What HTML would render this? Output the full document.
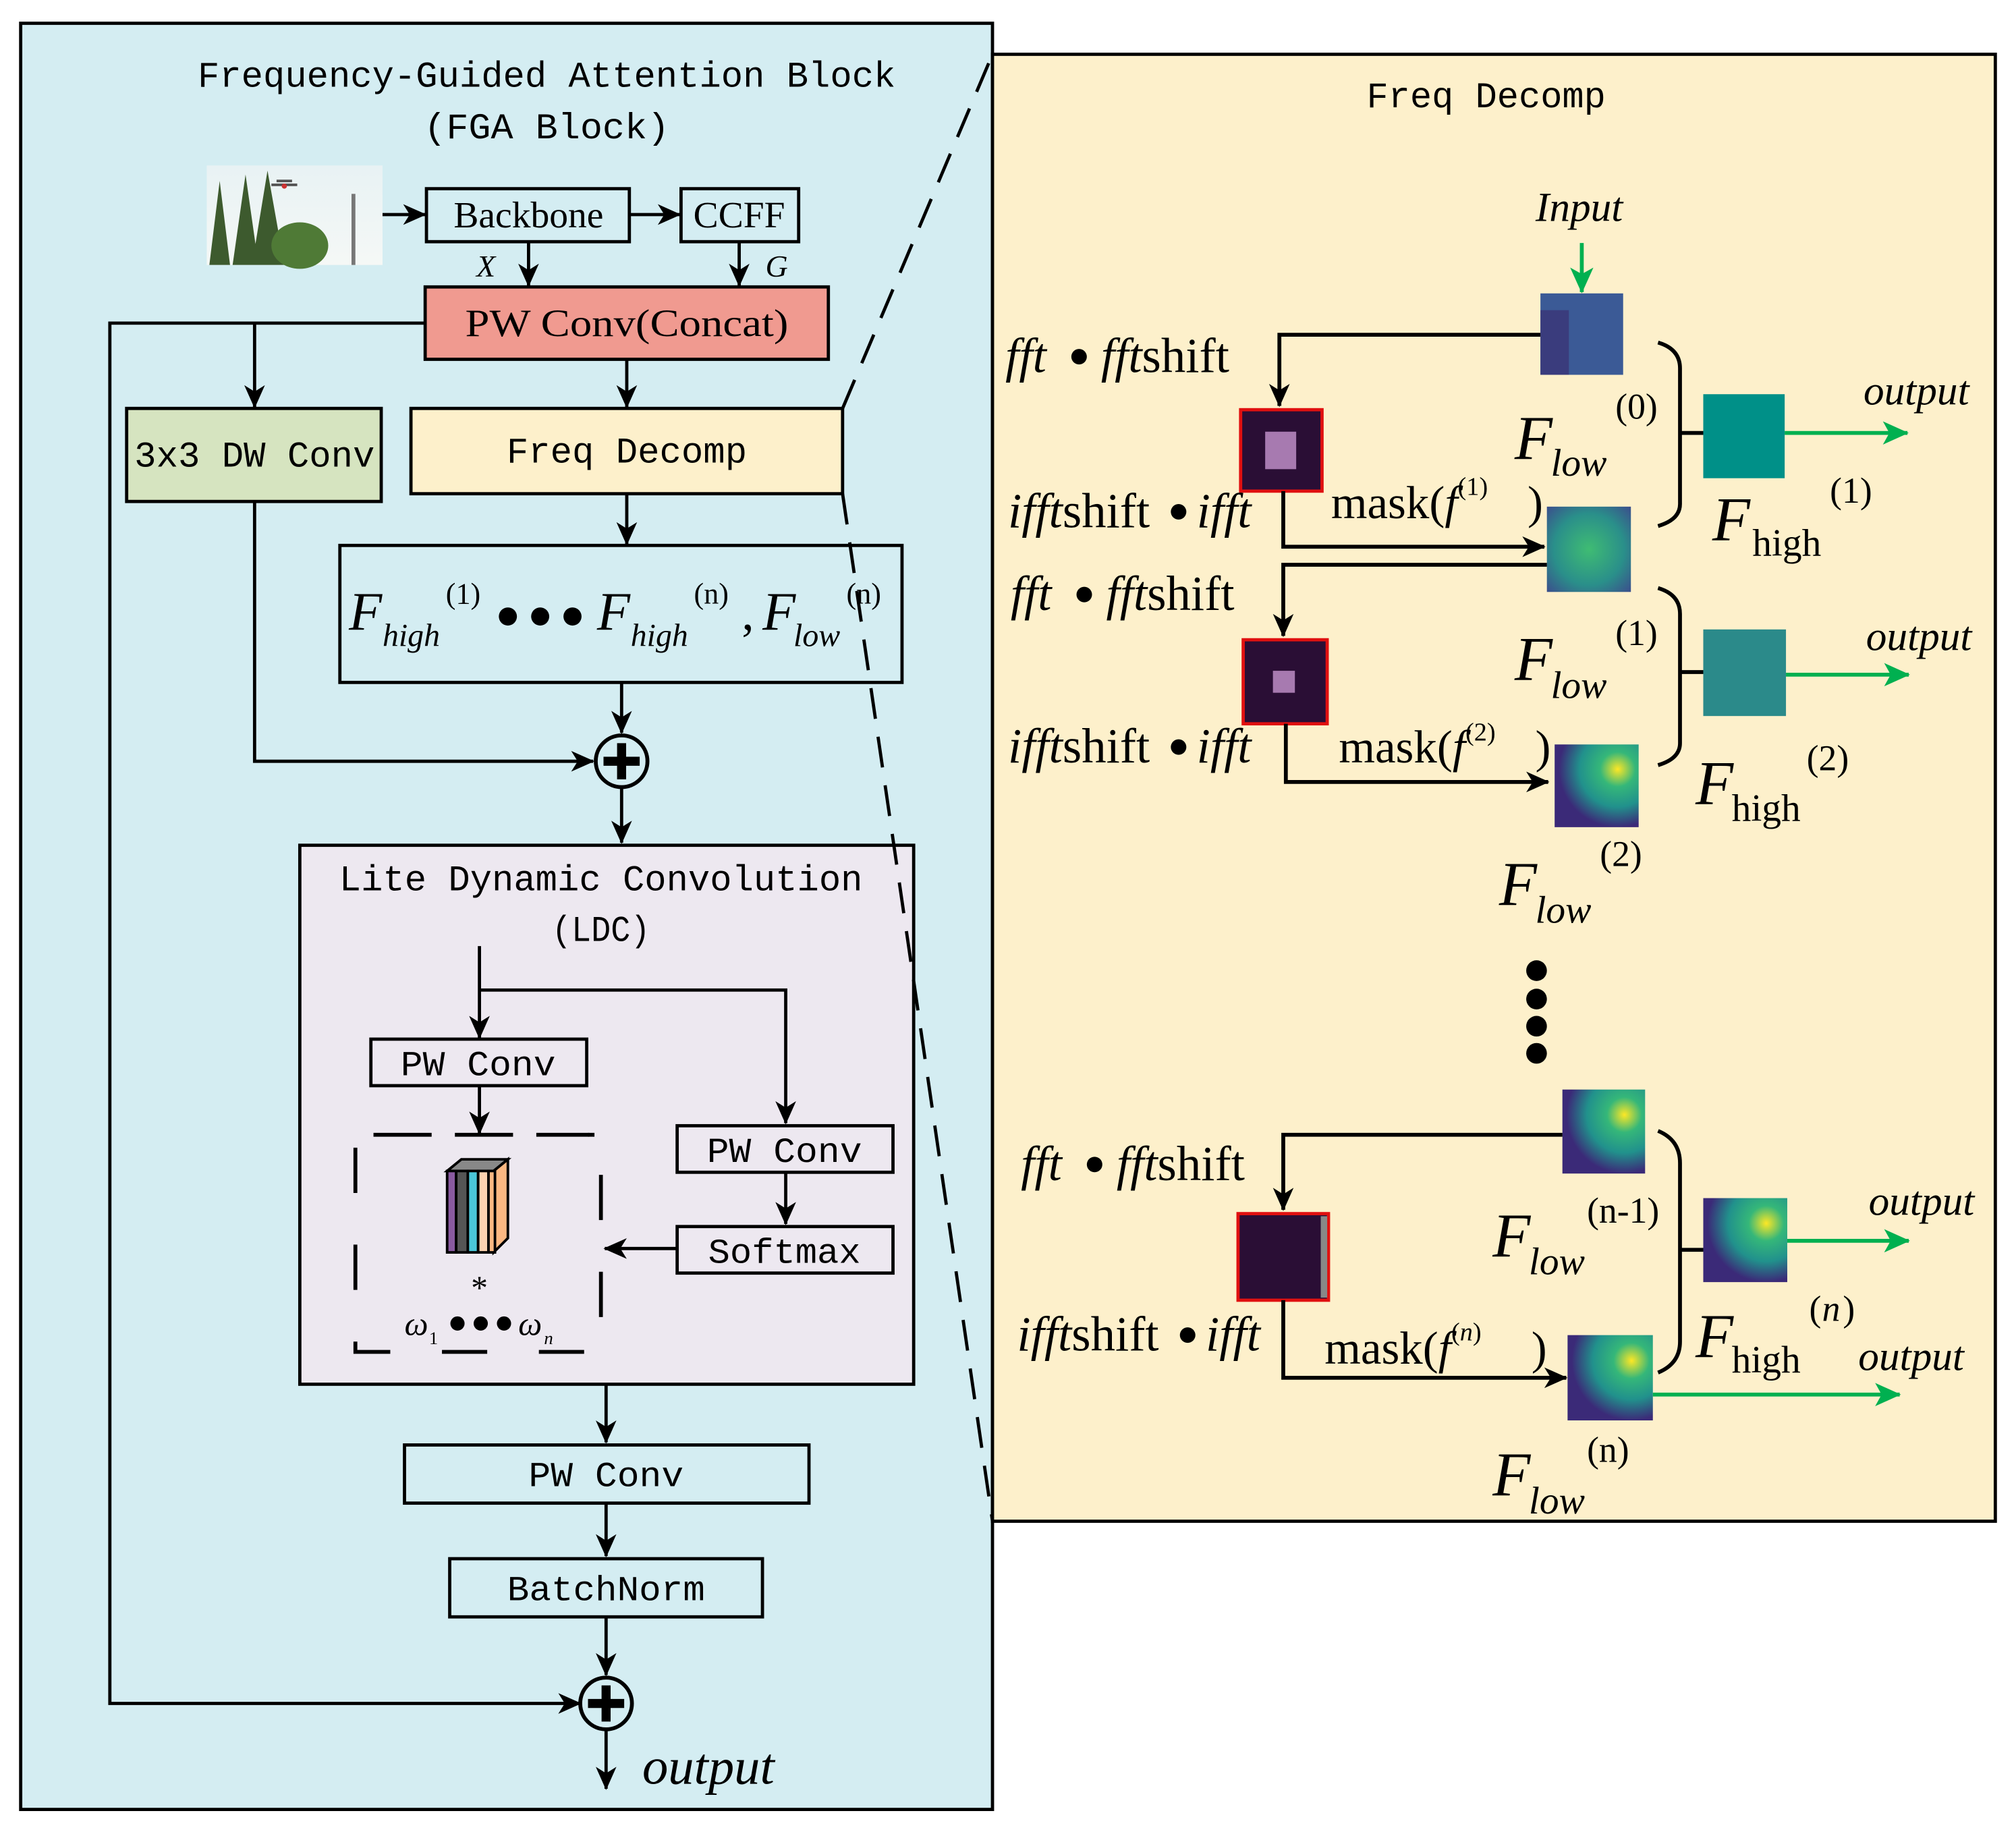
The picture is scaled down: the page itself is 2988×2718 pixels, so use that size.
<!DOCTYPE html>
<html><head><meta charset="utf-8"><style>
html,body{margin:0;padding:0;background:#fff}
svg{display:block}
.m{font-family:"Liberation Mono",monospace}
.s{font-family:"Liberation Serif",serif}
.i{font-family:"Liberation Serif",serif;font-style:italic}
</style></head><body>
<svg width="2988" height="2718" viewBox="0 0 1560 1419" preserveAspectRatio="none" xmlns="http://www.w3.org/2000/svg">
<defs>
<marker id="a" markerWidth="18" markerHeight="16" refX="17" refY="8" orient="auto" markerUnits="userSpaceOnUse" viewBox="0 0 18 16"><path d="M0,0 L18,8 L0,16 L5,8 z" fill="#000"/></marker>
<marker id="g" markerWidth="20" markerHeight="18" refX="19" refY="9" orient="auto" markerUnits="userSpaceOnUse" viewBox="0 0 20 18"><path d="M0,0 L20,9 L0,18 L5,9 z" fill="#00b050"/></marker>
<radialGradient id="v1" cx="0.75" cy="0.3" r="0.7"><stop offset="0" stop-color="#fde725"/><stop offset="0.3" stop-color="#35b779"/><stop offset="0.65" stop-color="#21918c"/><stop offset="1" stop-color="#3b2a78"/></radialGradient>
<radialGradient id="v2" cx="0.5" cy="0.5" r="0.7"><stop offset="0" stop-color="#3fbc73"/><stop offset="0.6" stop-color="#2a8f8a"/><stop offset="1" stop-color="#3b4f8c"/></radialGradient>
<linearGradient id="sky" x1="0" y1="0" x2="0" y2="1"><stop offset="0" stop-color="#e8f2f4"/><stop offset="1" stop-color="#f5f8f6"/></linearGradient>
</defs>
<rect width="1560" height="1419" fill="#fff"/>
<rect x="16" y="18" width="752" height="1382" fill="#d4edf2" stroke="#000" stroke-width="2.5"/>
<text class="m" x="423" y="67" font-size="28" text-anchor="middle" textLength="540" lengthAdjust="spacingAndGlyphs">Frequency-Guided Attention Block</text>
<text class="m" x="423" y="107" font-size="28" text-anchor="middle" textLength="190" lengthAdjust="spacingAndGlyphs">(FGA Block)</text>
<rect x="160" y="128" width="136" height="77" fill="url(#sky)"/>
<path d="M162,205 L170,140 L178,205 Z M180,205 L190,135 L200,205 Z M195,205 L207,132 L220,205 Z" fill="#3d5a2e"/>
<ellipse cx="232" cy="190" rx="22" ry="18" fill="#4f7a36"/>
<rect x="272" y="150" width="3" height="55" fill="#777"/>
<path d="M210,143 h20 M214,140 h12" stroke="#555" stroke-width="2"/>
<circle cx="220" cy="144" r="2" fill="#c33"/>
<line x1="296" y1="166" x2="329" y2="166" stroke="#000" stroke-width="2.5" marker-end="url(#a)"/>
<rect x="330" y="146" width="157" height="41" fill="none" stroke="#000" stroke-width="2.5"/>
<text class="s" x="409" y="176" font-size="29" text-anchor="middle">Backbone</text>
<line x1="487" y1="166" x2="526" y2="166" stroke="#000" stroke-width="2.5" marker-end="url(#a)"/>
<rect x="527" y="146" width="91" height="41" fill="none" stroke="#000" stroke-width="2.5"/>
<text class="s" x="572" y="176" font-size="29" text-anchor="middle">CCFF</text>
<line x1="409" y1="187" x2="409" y2="221" stroke="#000" stroke-width="2.5" marker-end="url(#a)"/>
<line x1="572" y1="187" x2="572" y2="221" stroke="#000" stroke-width="2.5" marker-end="url(#a)"/>
<text class="i" x="376" y="214" font-size="24" text-anchor="middle">X</text>
<text class="i" x="601" y="214" font-size="24" text-anchor="middle">G</text>
<rect x="329" y="222" width="312" height="56" fill="#f09a90" stroke="#000" stroke-width="2.5"/>
<text class="s" x="485" y="260" font-size="30" text-anchor="middle" textLength="250" lengthAdjust="spacingAndGlyphs">PW Conv(Concat)</text>
<polyline points="329,250 85,250 85,1318 449,1318" fill="none" stroke="#000" stroke-width="2.5" marker-end="url(#a)"/>
<line x1="197" y1="250" x2="197" y2="315" stroke="#000" stroke-width="2.5" marker-end="url(#a)"/>
<rect x="98" y="316" width="197" height="72" fill="#d6e4c0" stroke="#000" stroke-width="2.5"/>
<text class="m" x="197" y="361" font-size="28" text-anchor="middle" textLength="186" lengthAdjust="spacingAndGlyphs">3x3 DW Conv</text>
<line x1="485" y1="278" x2="485" y2="315" stroke="#000" stroke-width="2.5" marker-end="url(#a)"/>
<rect x="318" y="316" width="334" height="66" fill="#fdf0cb" stroke="#000" stroke-width="2.5"/>
<text class="m" x="485" y="358" font-size="28" text-anchor="middle" textLength="186" lengthAdjust="spacingAndGlyphs">Freq Decomp</text>
<line x1="485" y1="382" x2="485" y2="421" stroke="#000" stroke-width="2.5" marker-end="url(#a)"/>
<rect x="263" y="422" width="435" height="106" fill="none" stroke="#000" stroke-width="2.5"/>
<text class="i" x="270" y="487" font-size="42">F</text>
<text class="i" x="296" y="500" font-size="25">high</text>
<text class="s" x="345" y="467" font-size="23">(1)</text>
<circle cx="393" cy="477" r="7"/><circle cx="418" cy="477" r="7"/><circle cx="443" cy="477" r="7"/>
<text class="i" x="462" y="487" font-size="42">F</text>
<text class="i" x="488" y="500" font-size="25">high</text>
<text class="s" x="537" y="467" font-size="23">(n)</text>
<text class="s" x="574" y="487" font-size="38">,</text>
<text class="i" x="590" y="487" font-size="42">F</text>
<text class="i" x="614" y="500" font-size="25">low</text>
<text class="s" x="655" y="467" font-size="23">(n)</text>
<polyline points="197,388 197,589 459,589" fill="none" stroke="#000" stroke-width="2.5" marker-end="url(#a)"/>
<line x1="481" y1="528" x2="481" y2="567" stroke="#000" stroke-width="2.5" marker-end="url(#a)"/>
<circle cx="481" cy="589" r="20" fill="none" stroke="#000" stroke-width="3"/>
<path d="M481,575 V603 M467,589 H495" stroke="#000" stroke-width="7"/>
<line x1="481" y1="610" x2="481" y2="652" stroke="#000" stroke-width="2.5" marker-end="url(#a)"/>
<rect x="232" y="654" width="475" height="417" fill="#ede8f0" stroke="#000" stroke-width="2.5"/>
<text class="m" x="465" y="689" font-size="28" text-anchor="middle" textLength="405" lengthAdjust="spacingAndGlyphs">Lite Dynamic Convolution</text>
<text class="m" x="465" y="728" font-size="28" text-anchor="middle" textLength="76" lengthAdjust="spacingAndGlyphs">(LDC)</text>
<line x1="371" y1="732" x2="371" y2="803" stroke="#000" stroke-width="2.5" marker-end="url(#a)"/>
<polyline points="371,766 608,766 608,869" fill="none" stroke="#000" stroke-width="2.5" marker-end="url(#a)"/>
<rect x="287" y="804" width="167" height="36" fill="none" stroke="#000" stroke-width="2.5"/>
<text class="m" x="370" y="832" font-size="27" text-anchor="middle" textLength="120" lengthAdjust="spacingAndGlyphs">PW Conv</text>
<rect x="524" y="871" width="167" height="36" fill="none" stroke="#000" stroke-width="2.5"/>
<text class="m" x="607" y="899" font-size="27" text-anchor="middle" textLength="120" lengthAdjust="spacingAndGlyphs">PW Conv</text>
<line x1="608" y1="907" x2="608" y2="947" stroke="#000" stroke-width="2.5" marker-end="url(#a)"/>
<rect x="524" y="949" width="167" height="36" fill="none" stroke="#000" stroke-width="2.5"/>
<text class="m" x="607" y="977" font-size="27" text-anchor="middle" textLength="118" lengthAdjust="spacingAndGlyphs">Softmax</text>
<line x1="524" y1="966" x2="468" y2="966" stroke="#000" stroke-width="2.5" marker-end="url(#a)"/>
<line x1="371" y1="840" x2="371" y2="877" stroke="#000" stroke-width="2.5" marker-end="url(#a)"/>
<g stroke="#000" stroke-width="3" fill="none">
<path d="M275,888 V1046 H465 V878 H455" stroke-dasharray="35,40"/>
<path d="M289,878 H470" stroke-dasharray="45,18"/>
</g>
<g stroke="#000" stroke-width="2">
<path d="M346,906 L357,897 L393,897 L382,906 Z" fill="#888"/>
<path d="M382,906 L393,897 L393,958 L382,969 Z" fill="#fcb882"/>
<rect x="346" y="906" width="7" height="63" fill="#8a5aa0"/>
<rect x="353" y="906" width="9" height="63" fill="#555"/>
<rect x="362" y="906" width="8" height="63" fill="#4bc6d8"/>
<rect x="370" y="906" width="8" height="63" fill="#fcd2b0"/>
<rect x="378" y="906" width="5" height="63" fill="#fcb882"/>
</g>
<text class="s" x="371" y="1005" font-size="26" text-anchor="middle">*</text>
<text class="i" x="313" y="1033" font-size="26">ω</text><text class="s" x="332" y="1040" font-size="14">1</text>
<circle cx="354" cy="1024" r="5.5"/><circle cx="372" cy="1024" r="5.5"/><circle cx="390" cy="1024" r="5.5"/>
<text class="i" x="401" y="1033" font-size="26">ω</text><text class="i" x="421" y="1040" font-size="14">n</text>
<line x1="469" y1="1071" x2="469" y2="1116" stroke="#000" stroke-width="2.5" marker-end="url(#a)"/>
<rect x="313" y="1118" width="313" height="45" fill="none" stroke="#000" stroke-width="2.5"/>
<text class="m" x="469" y="1150" font-size="27" text-anchor="middle" textLength="120" lengthAdjust="spacingAndGlyphs">PW Conv</text>
<line x1="469" y1="1163" x2="469" y2="1204" stroke="#000" stroke-width="2.5" marker-end="url(#a)"/>
<rect x="348" y="1206" width="242" height="45" fill="none" stroke="#000" stroke-width="2.5"/>
<text class="m" x="469" y="1238" font-size="27" text-anchor="middle" textLength="153" lengthAdjust="spacingAndGlyphs">BatchNorm</text>
<line x1="469" y1="1251" x2="469" y2="1296" stroke="#000" stroke-width="2.5" marker-end="url(#a)"/>
<circle cx="469" cy="1318" r="20" fill="none" stroke="#000" stroke-width="3"/>
<path d="M469,1304 V1332 M455,1318 H483" stroke="#000" stroke-width="7"/>
<line x1="469" y1="1338" x2="469" y2="1384" stroke="#000" stroke-width="2.5" marker-end="url(#a)"/>
<text class="i" x="497" y="1380" font-size="40">output</text>
<rect x="768" y="42" width="776" height="1135" fill="#fdf0cb" stroke="#000" stroke-width="2.5"/>
<g stroke="#000" stroke-width="2.5" stroke-dasharray="24,14">
<line x1="652" y1="316" x2="768" y2="42"/>
<line x1="652" y1="382" x2="768" y2="1177"/>
</g>
<text class="m" x="1150" y="83" font-size="28" text-anchor="middle" textLength="185" lengthAdjust="spacingAndGlyphs">Freq Decomp</text>
<text class="i" x="1222" y="171" font-size="32" text-anchor="middle">Input</text>
<line x1="1224" y1="188" x2="1224" y2="226" stroke="#00b050" stroke-width="3" marker-end="url(#g)"/>
<rect x="1192" y="227" width="64" height="63" fill="#3b5a96"/>
<rect x="1192" y="240" width="22" height="50" fill="#3a2f72" opacity="0.7"/>
<polyline points="1192,259 990,259 990,314" fill="none" stroke="#000" stroke-width="3" marker-end="url(#a)"/>
<rect x="960" y="317" width="63" height="63" fill="#2a0e35" stroke="#e01010" stroke-width="2.5"/>
<rect x="979" y="334" width="24" height="29" fill="#a77ab0"/>
<text x="778" y="288" font-size="38" class="s"><tspan font-style="italic">fft</tspan></text><circle cx="835" cy="276" r="6"/><text x="852" y="288" font-size="38" class="s"><tspan font-style="italic">fft</tspan>shift</text>
<text x="780" y="408" font-size="38" class="s"><tspan font-style="italic">ifft</tspan>shift</text><circle cx="912" cy="396" r="6"/><text class="i" x="926" y="408" font-size="38">ifft</text>
<polyline points="993,380 993,423 1195,423" fill="none" stroke="#000" stroke-width="3" marker-end="url(#a)"/>
<text class="s" x="1030" y="401" font-size="36">mask(<tspan font-style="italic">f</tspan></text><text class="s" x="1128" y="383" font-size="20">(1)</text><text class="s" x="1182" y="401" font-size="36">)</text>
<rect x="1197" y="392" width="65" height="66" fill="url(#v2)"/>
<path d="M1283,265 Q1300,270 1300,285 V390 Q1300,402 1283,407 M1300,335 H1318" fill="none" stroke="#000" stroke-width="3"/>
<rect x="1318" y="305" width="63" height="65" fill="#009088"/>
<line x1="1381" y1="335" x2="1476" y2="335" stroke="#00b050" stroke-width="3" marker-end="url(#g)"/>
<text class="i" x="1442" y="313" font-size="32">output</text>
<text class="i" x="1172" y="355" font-size="48">F</text><text class="i" x="1200" y="368" font-size="30">low</text><text class="s" x="1250" y="324" font-size="28">(0)</text>
<text class="i" x="1325" y="418" font-size="48">F</text><text class="s" x="1356" y="430" font-size="30">high</text><text class="s" x="1416" y="389" font-size="28">(1)</text>
<polyline points="1197,437 993,437 993,492" fill="none" stroke="#000" stroke-width="3" marker-end="url(#a)"/>
<text x="782" y="472" font-size="38" class="s"><tspan font-style="italic">fft</tspan></text><circle cx="839" cy="460" r="6"/><text x="856" y="472" font-size="38" class="s"><tspan font-style="italic">fft</tspan>shift</text>
<rect x="962" y="495" width="65" height="65" fill="#2a0e35" stroke="#e01010" stroke-width="2.5"/>
<rect x="985" y="519" width="17" height="17" fill="#a77ab0"/>
<text x="780" y="590" font-size="38" class="s"><tspan font-style="italic">ifft</tspan>shift</text><circle cx="912" cy="578" r="6"/><text class="i" x="926" y="590" font-size="38">ifft</text>
<polyline points="995,560 995,605 1198,605" fill="none" stroke="#000" stroke-width="3" marker-end="url(#a)"/>
<text class="s" x="1036" y="590" font-size="36">mask(<tspan font-style="italic">f</tspan></text><text class="s" x="1134" y="573" font-size="20">(2)</text><text class="s" x="1188" y="590" font-size="36">)</text>
<rect x="1203" y="576" width="65" height="64" fill="url(#v1)"/>
<path d="M1283,455 Q1300,460 1300,475 V575 Q1300,587 1283,592 M1300,520 H1318" fill="none" stroke="#000" stroke-width="3"/>
<rect x="1318" y="487" width="64" height="67" fill="#2b8a8a"/>
<line x1="1382" y1="522" x2="1477" y2="522" stroke="#00b050" stroke-width="3" marker-end="url(#g)"/>
<text class="i" x="1444" y="503" font-size="32">output</text>
<text class="i" x="1172" y="526" font-size="48">F</text><text class="i" x="1200" y="540" font-size="30">low</text><text class="s" x="1250" y="499" font-size="28">(1)</text>
<text class="i" x="1312" y="622" font-size="48">F</text><text class="s" x="1340" y="635" font-size="30">high</text><text class="s" x="1398" y="596" font-size="28">(2)</text>
<text class="i" x="1160" y="700" font-size="48">F</text><text class="i" x="1188" y="714" font-size="30">low</text><text class="s" x="1238" y="670" font-size="28">(2)</text>
<circle cx="1189" cy="751" r="8"/><circle cx="1189" cy="773" r="8"/><circle cx="1189" cy="794" r="8"/><circle cx="1189" cy="815" r="8"/>
<rect x="1209" y="843" width="64" height="65" fill="url(#v1)"/>
<polyline points="1209,878 993,878 993,936" fill="none" stroke="#000" stroke-width="3" marker-end="url(#a)"/>
<text x="790" y="913" font-size="38" class="s"><tspan font-style="italic">fft</tspan></text><circle cx="847" cy="901" r="6"/><text x="864" y="913" font-size="38" class="s"><tspan font-style="italic">fft</tspan>shift</text>
<rect x="958" y="939" width="70" height="67" fill="#2a0e35" stroke="#e01010" stroke-width="2.5"/>
<rect x="1022" y="941" width="5" height="63" fill="#888"/>
<text x="787" y="1045" font-size="38" class="s"><tspan font-style="italic">ifft</tspan>shift</text><circle cx="919" cy="1033" r="6"/><text class="i" x="933" y="1045" font-size="38">ifft</text>
<polyline points="993,1006 993,1066 1212,1066" fill="none" stroke="#000" stroke-width="3" marker-end="url(#a)"/>
<text class="s" x="1025" y="1055" font-size="36">mask(<tspan font-style="italic">f</tspan></text><text class="s" x="1123" y="1037" font-size="20">(<tspan font-style="italic">n</tspan>)</text><text class="s" x="1185" y="1055" font-size="36">)</text>
<rect x="1213" y="1033" width="66" height="66" fill="url(#v1)"/>
<path d="M1283,875 Q1300,882 1300,900 V1038 Q1300,1055 1283,1062 M1300,967 H1318" fill="none" stroke="#000" stroke-width="3"/>
<rect x="1318" y="927" width="65" height="65" fill="url(#v1)"/>
<line x1="1383" y1="960" x2="1477" y2="960" stroke="#00b050" stroke-width="3" marker-end="url(#g)"/>
<text class="i" x="1446" y="940" font-size="32">output</text>
<line x1="1279" y1="1079" x2="1470" y2="1079" stroke="#00b050" stroke-width="3" marker-end="url(#g)"/>
<text class="i" x="1438" y="1060" font-size="32">output</text>
<text class="i" x="1155" y="972" font-size="48">F</text><text class="i" x="1183" y="986" font-size="30">low</text><text class="s" x="1228" y="946" font-size="28">(n-1)</text>
<text class="i" x="1312" y="1050" font-size="48">F</text><text class="s" x="1340" y="1062" font-size="30">high</text><text class="s" x="1400" y="1022" font-size="28">(</text><text class="i" x="1410" y="1022" font-size="28">n</text><text class="s" x="1426" y="1022" font-size="28">)</text>
<text class="i" x="1155" y="1157" font-size="48">F</text><text class="i" x="1183" y="1171" font-size="30">low</text><text class="s" x="1228" y="1131" font-size="28">(n)</text>
</svg>
</body></html>
